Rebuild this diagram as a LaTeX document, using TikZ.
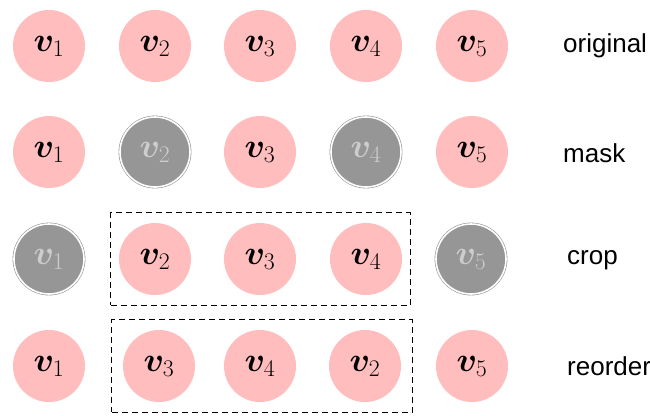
\documentclass[tikz,border=0pt]{standalone}
\usepackage{fix-cm}
\usepackage{amsmath,bm}
\usepackage{fontspec}
\setmainfont{Liberation Sans}
\usepackage{xcolor}
\usetikzlibrary{positioning,fit}
\definecolor{tokpink}{RGB}{255,189,189}
\definecolor{maskgray}{RGB}{150,150,150}
\definecolor{masktext}{RGB}{205,205,205}
\newcommand{\tokv}[1]{$\bm{v}_{#1}$}

\begin{document}
\begin{tikzpicture}[x=1pt,y=-1pt,
  tok/.style={circle,fill=tokpink,minimum size=72pt,inner sep=0pt,
     font=\fontsize{34}{38}\selectfont},
  masked/.style={circle,fill=maskgray,minimum size=70pt,inner sep=0pt,
     draw=maskgray,line width=0.6pt,double=white,double distance=1.6pt,
     text=masktext,font=\fontsize{34}{38}\selectfont},
  rowlabel/.style={anchor=west,inner sep=0pt,font=\fontsize{26}{30}\selectfont},
  cropbox/.style={draw,dash pattern=on 6pt off 4pt,line width=1.1pt,inner sep=0pt}]
\useasboundingbox (0,0) rectangle (650,415);
% original
\node[tok] (o1) at (49,46) {\tokv1};
\node[tok] (o2) at (155,46) {\tokv2};
\node[tok] (o3) at (260,46) {\tokv3};
\node[tok] (o4) at (366,46) {\tokv4};
\node[tok] (o5) at (472,46) {\tokv5};
\node[rowlabel] (lo) at (563,46) {original};
% mask
\node[tok] (m1) at (49,152) {\tokv1};
\node[masked] (m2) at (155,152) {\tokv2};
\node[tok] (m3) at (260,152) {\tokv3};
\node[masked] (m4) at (366,152) {\tokv4};
\node[tok] (m5) at (472,152) {\tokv5};
\node[rowlabel] (lm) at (563,153) {mask};
% crop
\node[masked] (c1) at (49,259) {\tokv1};
\node[tok] (c2) at (155,259) {\tokv2};
\node[tok] (c3) at (260,259) {\tokv3};
\node[tok] (c4) at (366,259) {\tokv4};
\node[masked] (c5) at (471,259) {\tokv5};
\node[rowlabel] (lc) at (567,260) {crop};
\node[cropbox,fit=(c2)(c4),inner xsep=8pt,inner ysep=10pt] (cbox) {};
% reorder
\node[tok] (r1) at (49,366) {\tokv1};
\node[tok] (r3) at (159,366) {\tokv3};
\node[tok] (r4) at (260,366) {\tokv4};
\node[tok] (r2) at (365,366) {\tokv2};
\node[tok] (r5) at (472,366) {\tokv5};
\node[rowlabel] (lr) at (567,366) {reorder};
\node[cropbox,fit=(r3)(r2),inner xsep=11pt,inner ysep=10pt] (rbox) {};
\end{tikzpicture}
\end{document}
